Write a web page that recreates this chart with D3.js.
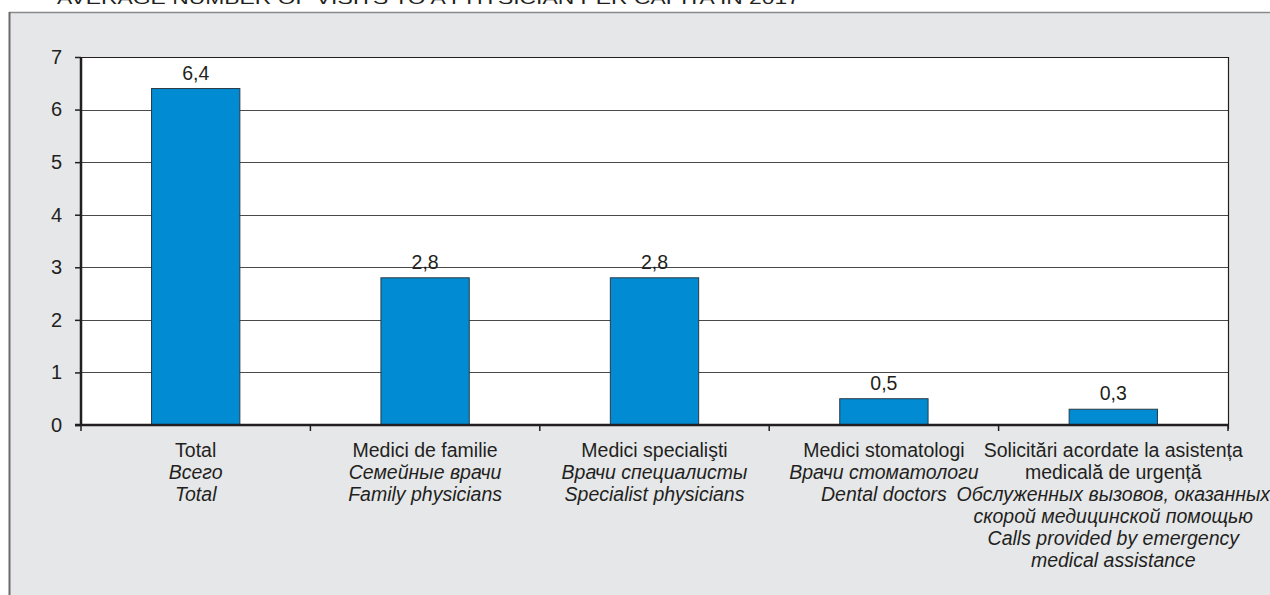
<!DOCTYPE html>
<html><head><meta charset="utf-8">
<script src="https://cdn.jsdelivr.net/npm/d3@7"></script>
<style>
html,body{margin:0;padding:0;background:#fff;}
svg{display:block;font-family:"Liberation Sans",Arial,Helvetica,sans-serif;}
</style></head>
<body>
<svg id="c" width="1270" height="595"></svg>
<script>
const title = "AVERAGE NUMBER OF VISITS TO A PHYSICIAN PER CAPITA IN 2017";
const categories = ["total","family","specialists","dental","emergency"];
const values = [6.4, 2.8, 2.8, 0.5, 0.3];
const valueLabels = ["6,4","2,8","2,8","0,5","0,3"];
const labelLines = [
  [["Total",false],["Всего",true],["Total",true]],
  [["Medici de familie",false],["Семейные врачи",true],["Family physicians",true]],
  [["Medici specialişti",false],["Врачи специалисты",true],["Specialist physicians",true]],
  [["Medici stomatologi",false],["Врачи стоматологи",true],["Dental doctors",true]],
  [["Solicitări acordate la asistența",false],["medicală de urgență",false],["Обслуженных вызовов, оказанных",true],["скорой медицинской помощью",true],["Calls provided by emergency",true],["medical assistance",true]]
];
const yTicks = [0,1,2,3,4,5,6,7];

const svg = d3.select("#c");
const W = 1270, H = 595;
const m = {left:81, right:1228, top:57, bottom:425};
const txt = "#231f20";
const fs = 19.5;

// panel
svg.append("rect").attr("x",9).attr("y",12).attr("width",W-9).attr("height",H-12).attr("fill","#e6e7e9");
svg.append("line").attr("x1",9).attr("x2",W).attr("y1",12.5).attr("y2",12.5).attr("stroke","#8a8a8a").attr("stroke-width",1.5);
svg.append("line").attr("x1",9.5).attr("x2",9.5).attr("y1",12).attr("y2",H).attr("stroke","#6a6a6a").attr("stroke-width",2);

// title (cut off at top edge, as in the reference)
svg.append("text").attr("x",57).attr("y",3.5).attr("font-size",17).attr("fill",txt)
  .attr("textLength",743).attr("lengthAdjust","spacingAndGlyphs").text(title);

const x = d3.scaleBand().domain(categories).range([m.left,m.right]).paddingInner(0.615).paddingOuter(0.3075);
const y = d3.scaleLinear().domain([0,7]).range([m.bottom,m.top]);

// plot area
svg.append("rect").attr("x",m.left).attr("y",m.top).attr("width",m.right-m.left).attr("height",m.bottom-m.top).attr("fill","#fff");

// gridlines
svg.append("g").selectAll("line").data(yTicks.filter(d=>d>0)).join("line")
  .attr("x1",m.left).attr("x2",m.right)
  .attr("y1",d=>Math.round(y(d))+0.5).attr("y2",d=>Math.round(y(d))+0.5)
  .attr("stroke",d=>d===7?"#231f20":"#4a4a4a").attr("stroke-width",1);
// right border
svg.append("line").attr("x1",m.right+0.5).attr("x2",m.right+0.5).attr("y1",m.top).attr("y2",m.bottom+4).attr("stroke","#231f20").attr("stroke-width",1.2);

// bars
svg.append("g").selectAll("rect").data(values).join("rect")
  .attr("x",(d,i)=>x(categories[i])).attr("width",x.bandwidth())
  .attr("y",d=>y(d)).attr("height",d=>y(0)-y(d))
  .attr("fill","#008bd2").attr("stroke","#2a3a44").attr("stroke-width",1);

// value labels
svg.append("g").selectAll("text").data(values).join("text")
  .attr("x",(d,i)=>x(categories[i])+x.bandwidth()/2).attr("y",d=>y(d)-9)
  .attr("text-anchor","middle").attr("font-size",fs).attr("fill",txt)
  .text((d,i)=>valueLabels[i]);

// y axis
const ya = svg.append("g").attr("transform",`translate(${m.left},0)`)
  .call(d3.axisLeft(y).tickValues(yTicks).tickSize(6).tickPadding(13).tickFormat(d3.format("d")));
ya.select(".domain").attr("stroke","#231f20").attr("stroke-width",2.5).attr("d",`M0,${m.top}V${m.bottom}`);
ya.selectAll(".tick line").attr("stroke","#231f20").attr("stroke-width",1.5);
ya.selectAll(".tick text").attr("font-size",20).attr("fill",txt).attr("font-family","Liberation Sans, Arial, sans-serif");

// x axis (band boundaries)
const bounds = categories.map(c=>x(c)-x.step()*x.paddingInner()/2).concat([m.right]);
svg.append("line").attr("x1",m.left-6).attr("x2",m.right).attr("y1",m.bottom).attr("y2",m.bottom).attr("stroke","#231f20").attr("stroke-width",2.5);
svg.append("g").selectAll("line").data(bounds).join("line")
  .attr("x1",d=>d).attr("x2",d=>d).attr("y1",m.bottom).attr("y2",m.bottom+6)
  .attr("stroke","#231f20").attr("stroke-width",1.5);

// category labels
const lg = svg.append("g");
labelLines.forEach((lines,i)=>{
  const cx = x(categories[i])+x.bandwidth()/2;
  const t = lg.append("text").attr("x",cx).attr("y",457).attr("text-anchor","middle").attr("font-size",fs).attr("fill",txt);
  lines.forEach((ln,j)=>{
    t.append("tspan").attr("x",cx).attr("dy",j===0?0:22).attr("font-style",ln[1]?"italic":"normal").text(ln[0]);
  });
});
</script>
</body></html>
